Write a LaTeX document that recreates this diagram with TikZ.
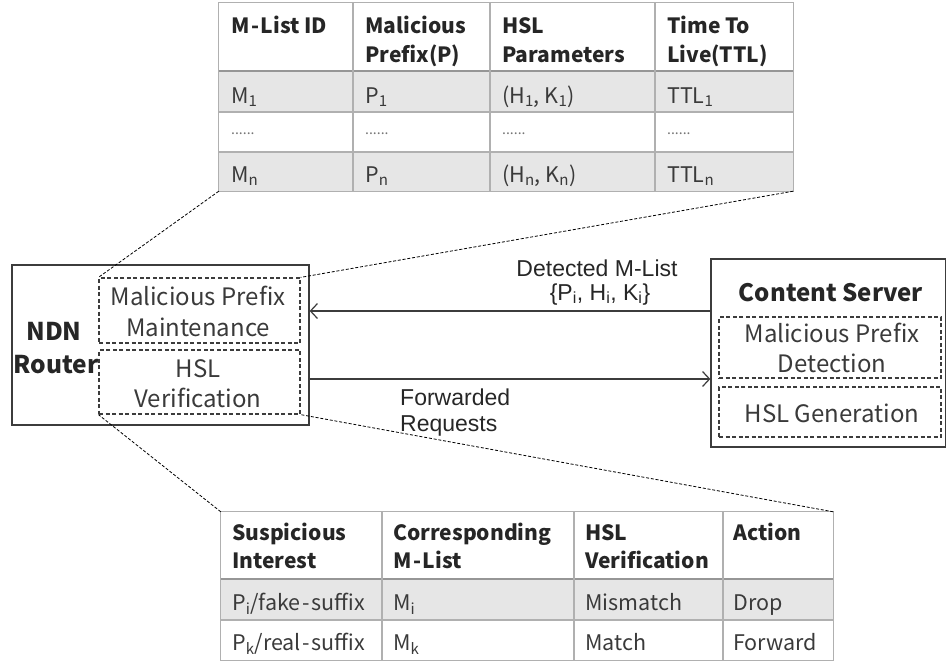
\documentclass[tikz,border=0pt]{standalone}
\usepackage{fontspec}
\setmainfont{Noto Sans CJK SC}
\newfontfamily\arialf{Liberation Sans}
\usetikzlibrary{arrows.meta}
\definecolor{gridc}{HTML}{B0B0B0}
\definecolor{rowfill}{HTML}{E6E6E6}
\definecolor{txt}{HTML}{262626}
\definecolor{ltxt}{HTML}{3A3A3A}
\definecolor{boxc}{HTML}{3C3C3C}
\newcommand\myhy{\kern1.6pt-\kern1.6pt}
\begin{document}
\begin{tikzpicture}[x=1pt,y=-1pt,
  hdr/.style={anchor=base west, font=\fontsize{21}{29}\selectfont\bfseries, text=txt, inner sep=0pt},
  cell/.style={anchor=base west, font=\fontsize{21.5}{24}\selectfont, text=ltxt, inner sep=0pt},
  dots/.style={anchor=base west, font=\fontsize{14}{16}\selectfont, text=ltxt!70, inner sep=0pt},
  gridline/.style={draw=gridc, line width=1.2pt},
  hdrline/.style={draw=gridc!85!black, line width=2pt},
  tabframe/.style={draw=none, inner sep=0pt},
  solidbox/.style={draw=boxc, line width=1.3pt, inner sep=0pt},
  dbox/.style={draw=boxc, line width=1.2pt, dash pattern=on 4pt off 2.5pt, inner sep=0pt},
  btxt/.style={anchor=base, font=\fontsize{24}{30}\selectfont, text=ltxt, inner sep=0pt},
  bigb/.style={anchor=base, font=\fontsize{24.5}{33}\selectfont\bfseries, text=txt, inner sep=0pt},
  zoomline/.style={draw=black, line width=0.8pt, dash pattern=on 3pt off 1.8pt},
  flow/.style={draw=boxc, line width=1.2pt, -{Straight Barb[length=7pt,width=15pt,line width=1.2pt]}},
  lbl/.style={anchor=base, font=\arialf\fontsize{23}{26}\selectfont, text=txt, inner sep=0pt}
]
\useasboundingbox (0,0) rectangle (947,662);

% ---------------- top table ----------------
\fill[rowfill] (219,71) rectangle (793,112);
\fill[rowfill] (219,152) rectangle (793,191);
\node[tabframe, minimum width=574, minimum height=188] (ttab) at (506,97) {};
\draw[gridline] (ttab.north west) rectangle (ttab.south east);
\foreach \yy in {112,152} \draw[gridline] (219,\yy) -- (793,\yy);
\draw[hdrline] (219,71) -- (793,71);
\foreach \xx in {353,490,655} \draw[gridline] (\xx,3) -- (\xx,191);

\node[hdr] (th1) at (231,33) {M\myhy List ID};
\node[hdr] (th2) at (365,33) {Malicious};
\node[hdr] (th2b) at (365,62) {Prefix(P)};
\node[hdr] (th3) at (502,33) {HSL};
\node[hdr] (th3b) at (502,62) {Parameters};
\node[hdr] (th4) at (667,33) {Time To};
\node[hdr] (th4b) at (667,62) {Live(TTL)};

\node[cell] (m1) at (231,103) {M\textsubscript{1}};
\node[cell] (p1) at (365,103) {P\textsubscript{1}};
\node[cell] (hk1) at (502,103) {(H\textsubscript{1}, K\textsubscript{1})};
\node[cell] (ttl1) at (667,103) {TTL\textsubscript{1}};

\node[dots] (d1) at (231,134) {......};
\node[dots] (d2) at (365,134) {......};
\node[dots] (d3) at (502,134) {......};
\node[dots] (d4) at (667,134) {......};

\node[cell] (mn) at (231,182) {M\textsubscript{n}};
\node[cell] (pn) at (365,182) {P\textsubscript{n}};
\node[cell] (hkn) at (502,182) {(H\textsubscript{n}, K\textsubscript{n})};
\node[cell] (ttln) at (667,182) {TTL\textsubscript{n}};

% ---------------- NDN router ----------------
\node[solidbox, minimum width=297, minimum height=160] (router) at (160.5,345) {};
\node[bigb] (rn1) at (54,340) {NDN};
\node[bigb] (rn2) at (56,373) {Router};
\node[dbox, minimum width=201, minimum height=65] (mpm) at (199.5,310.5) {};
\node[btxt] (mpm1) at (198,305) {Malicious Prefix};
\node[btxt] (mpm2) at (198,336) {Maintenance};
\node[dbox, minimum width=201, minimum height=64] (hslv) at (199.5,382) {};
\node[btxt] (hv1) at (198,377) {HSL};
\node[btxt] (hv2) at (198,407) {Verification};

% ---------------- content server ----------------
\node[solidbox, minimum width=234.5, minimum height=188] (server) at (828.25,353) {};
\node[bigb, font=\fontsize{24}{28}\selectfont\bfseries] (sname) at (831,301) {Content Server};
\node[dbox, minimum width=222, minimum height=61] (mpd) at (830,347.5) {};
\node[btxt] (mpd1) at (832,342) {Malicious Prefix};
\node[btxt] (mpd2) at (832,372) {Detection};
\node[dbox, minimum width=222, minimum height=50] (hslg) at (830,412) {};
\node[btxt] (hg1) at (832,422) {HSL Generation};

% ---------------- flows ----------------
\coordinate (srvin1) at (server.west |- 0,311);
\coordinate (rtin1) at (router.east |- 0,311);
\coordinate (rtout2) at (router.east |- 0,379);
\coordinate (srvin2) at (server.west |- 0,379);
\draw[flow] (srvin1) -- (rtin1);
\draw[flow] (rtout2) -- (srvin2);
\node[lbl] (det) at (597,276) {Detected M-List};
\node[lbl] (pset) at (600,300) {\{P\textsubscript{i}, H\textsubscript{i}, K\textsubscript{i}\}};
\node[lbl, anchor=base west] (fwd) at (400,405) {Forwarded};
\node[lbl, anchor=base west] (req) at (400,431) {Requests};

% ---------------- bottom table ----------------
\fill[rowfill] (221,579) rectangle (833,620);
\node[tabframe, minimum width=612, minimum height=148] (btab) at (527,586) {};
\draw[gridline] (btab.north west) rectangle (btab.south east);
\draw[gridline] (221,620) -- (833,620);
\draw[hdrline] (221,579) -- (833,579);
\foreach \xx in {382,574,723} \draw[gridline] (\xx,512) -- (\xx,660);

\node[hdr] (bh1) at (232,540) {Suspicious};
\node[hdr] (bh1b) at (232,568) {Interest};
\node[hdr] (bh2) at (393,540) {Corresponding};
\node[hdr] (bh2b) at (393,568) {M\myhy List};
\node[hdr] (bh3) at (585,540) {HSL};
\node[hdr] (bh3b) at (585,568) {Verification};
\node[hdr] (bh4) at (733,540) {Action};

\node[cell] (r11) at (232,610) {P\textsubscript{i}/fake\myhy suffix};
\node[cell] (r12) at (393,610) {M\textsubscript{i}};
\node[cell] (r13) at (585,610) {Mismatch};
\node[cell] (r14) at (733,610) {Drop};
\node[cell] (r21) at (232,650) {P\textsubscript{k}/real\myhy suffix};
\node[cell] (r22) at (393,650) {M\textsubscript{k}};
\node[cell] (r23) at (585,650) {Match};
\node[cell] (r24) at (733,650) {Forward};

% ---------------- zoom connectors ----------------
\draw[zoomline] (ttab.south west) -- (mpm.north west);
\draw[zoomline] (ttab.south east) -- (mpm.north east);
\draw[zoomline] (btab.north west) -- (hslv.south west);
\draw[zoomline] (btab.north east) -- (hslv.south east);
\end{tikzpicture}
\end{document}
